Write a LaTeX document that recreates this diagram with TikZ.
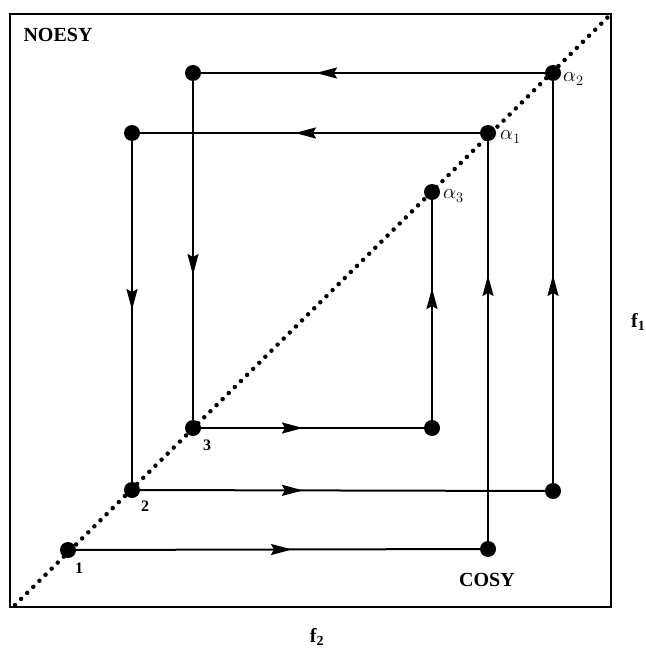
\documentclass[tikz,border=0pt]{standalone}
\usepackage{fontspec}
\setmainfont{Liberation Serif}
\usetikzlibrary{decorations.markings,arrows.meta,backgrounds}
\begin{document}
\begin{tikzpicture}[x=1pt,y=-1pt,
  >={Stealth[length=21pt,width=11pt,inset=3pt]},
  dot/.style={circle,fill=black,inner sep=0pt,minimum size=16pt},
  conn/.style={line width=2pt},
  arr/.style={conn,postaction={decorate,decoration={markings,mark=at position #1 with {\arrow{>}}}}},
  diag/.style={line width=4.5pt,line cap=round,dash pattern=on 0pt off 8.6pt},
  lbl/.style={font=\fontsize{20}{24}\selectfont\bfseries,inner sep=0pt},
  num/.style={font=\fontsize{16}{19}\selectfont\bfseries,inner sep=0pt},
  grk/.style={font=\fontsize{20}{24}\selectfont,inner sep=0pt,anchor=west}]
\useasboundingbox (0,0) rectangle (645,652);
% frame and diagonal
\coordinate (d0) at (15,605);
\coordinate (d1) at (611,14);
\draw[line width=2pt] (10,14) rectangle (611,607);
\draw[diag] (d0) -- (d1);
% dots
\node[dot] (p1) at (68,550) {};
\node[dot] (c1) at (488,549) {};
\node[dot] (a1) at (488,133) {};
\node[dot] (b1) at (132,133) {};
\node[dot] (p2) at (132,490) {};
\node[dot] (c2) at (553,491) {};
\node[dot] (a2) at (553,73) {};
\node[dot] (b2) at (193,73) {};
\node[dot] (p3) at (193,428) {};
\node[dot] (c3) at (432,428) {};
\node[dot] (a3) at (432,192) {};
% connectors
\begin{scope}[on background layer]
\draw[arr=224pt] (p1.center) -- (c1.center);
\draw[arr=274pt] (c1.center) -- (a1.center);
\draw[arr=193pt] (a1.center) -- (b1.center);
\draw[arr=177pt] (b1.center) -- (p2.center);
\draw[arr=171pt] (p2.center) -- (c2.center);
\draw[arr=216pt] (c2.center) -- (a2.center);
\draw[arr=237pt] (a2.center) -- (b2.center);
\draw[arr=202pt] (b2.center) -- (p3.center);
\draw[arr=110pt] (p3.center) -- (c3.center);
\draw[arr=140pt] (c3.center) -- (a3.center);
\end{scope}
% labels
\node[num] (l1) at (79,568) {1};
\node[num] (l2) at (145,506) {2};
\node[num] (l3) at (207,445) {3};
\node[grk] (g1) at (500,137) {$\alpha_{1}$};
\node[grk] (g2) at (563,79) {$\alpha_{2}$};
\node[grk] (g3) at (443,196) {$\alpha_{3}$};
\node[lbl] (noesy) at (58,35) {NOESY};
\node[lbl] (cosy) at (487,580) {COSY};
\node[lbl,anchor=west] (f1) at (631,322) {f\textsubscript{1}};
\node[lbl] (f2) at (317,637) {f\textsubscript{2}};
\end{tikzpicture}
\end{document}
